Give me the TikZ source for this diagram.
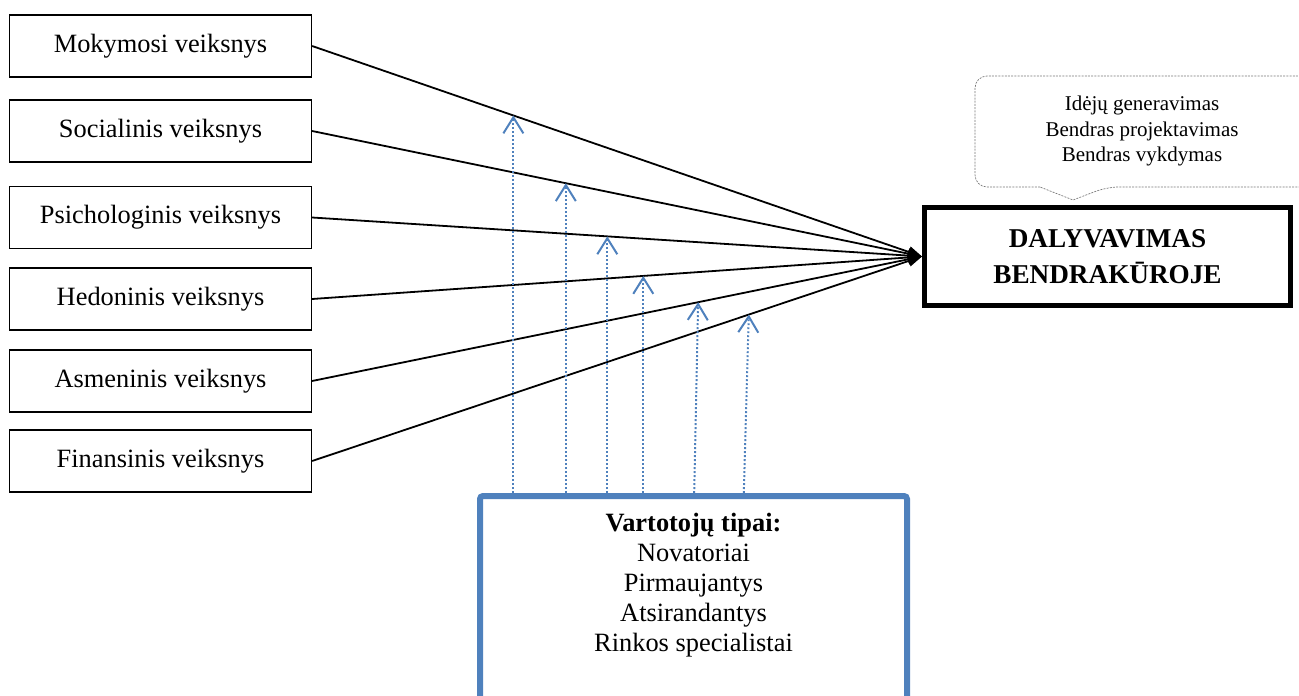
\documentclass[tikz,border=0pt]{standalone}
\usepackage{fontspec}
\setmainfont{Liberation Serif}
\usetikzlibrary{arrows.meta,calc}
\definecolor{accentblue}{RGB}{79,129,189}
\definecolor{calloutgray}{RGB}{120,120,120}
\begin{document}
\begin{tikzpicture}[x=0.5pt,y=-0.5pt,
  factor/.style={draw, line width=0.6pt, minimum width=151pt, minimum height=31pt,
    inner sep=0pt, font=\fontsize{13.2}{15}\selectfont},
  goal/.style={draw, line width=2.5pt, minimum width=183pt, minimum height=49pt,
    inner sep=0pt, align=center, font=\fontsize{13.6}{18}\selectfont\bfseries},
  typesbox/.style={draw=accentblue, line width=3pt, rounded corners=1.5pt,
    minimum width=213.5pt, minimum height=170pt, inner sep=0pt},
  typestext/.style={align=center, inner sep=0pt, font=\fontsize{13.2}{15}\selectfont},
  calloutline/.style={draw=calloutgray, line width=0.35pt, dash pattern=on 1pt off 0.6pt},
  callouttext/.style={align=center, inner sep=0pt, font=\fontsize{10.5}{12.75}\selectfont},
  influence/.style={line width=0.9pt, -{Triangle[length=7pt,width=5.5pt]}},
  moderator/.style={draw=accentblue, line width=1pt, dash pattern=on 0.9pt off 1.1pt,
    -{Straight Barb[length=8pt,width=10pt,line width=1pt]}}
]
\clip (0,0) rectangle (1299,695);

% factors on the left
\node[factor] (f1) at (160.5,46)    {Mokymosi veiksnys};
\node[factor] (f2) at (160.5,131)   {Socialinis veiksnys};
\node[factor] (f3) at (160.5,217.5) {Psichologinis veiksnys};
\node[factor] (f4) at (160.5,299)   {Hedoninis veiksnys};
\node[factor] (f5) at (160.5,381)   {Asmeninis veiksnys};
\node[factor] (f6) at (160.5,461)   {Finansinis veiksnys};

% outcome
\node[goal] (d) at (1107.5,256.5) {DALYVAVIMAS\\BENDRAKŪROJE};

% callout above the outcome
\draw[calloutline, rounded corners=6pt]
  (1040,187) -- (975,187) -- (975,76) -- (1312,76) -- (1312,187) -- (1107,187)
  [sharp corners] -- (1073,200) -- cycle;
\node[callouttext] (c) at (1142,131) {Idėjų generavimas\\Bendras projektavimas\\Bendras vykdymas};

% consumer types
\node[typesbox, anchor=north] (u) at (693.5,493) {};
\node[typestext, anchor=north] (ut) at (693.5,512.5)
  {\textbf{Vartotojų tipai:}\\Novatoriai\\Pirmaujantys\\Atsirandantys\\Rinkos specialistai};

% factor connectors
\foreach \i in {1,...,6}
  \draw[influence] (f\i.east) -- (d.west);

% points where the moderating arrows meet the connectors
\coordinate (t1) at ($(f1.east)!0.330!(d.west)$);
\coordinate (t2) at ($(f2.east)!0.416!(d.west)$);
\coordinate (t3) at ($(f3.east)!0.484!(d.west)$);
\coordinate (t4) at ($(f4.east)!0.543!(d.west)$);
\coordinate (t5) at ($(f5.east)!0.633!(d.west)$);
\coordinate (t6) at ($(f6.east)!0.716!(d.west)$);

\draw[moderator] (t1 |- u.north) -- (t1);
\draw[moderator] (t2 |- u.north) -- (t2);
\draw[moderator] (t3 |- u.north) -- (t3);
\draw[moderator] (t4 |- u.north) -- (t4);
\draw[moderator] ([xshift=-2pt]t5 |- u.north) -- (t5);
\draw[moderator] ([xshift=-2.5pt]t6 |- u.north) -- (t6);
\end{tikzpicture}
\end{document}
